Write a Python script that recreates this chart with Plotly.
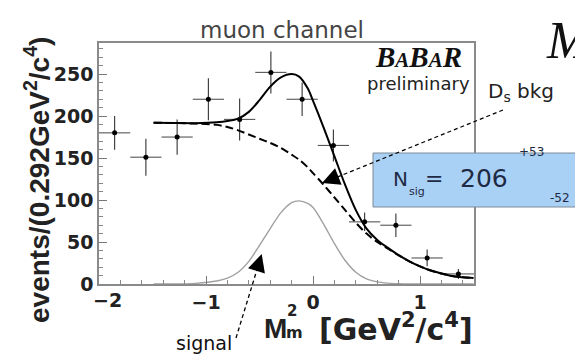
import plotly.graph_objects as go

# --- binned data (bin width 0.292 GeV^2/c^4) ---
bin_centers = [-1.854, -1.562, -1.270, -0.978, -0.686, -0.394, -0.102, 0.190, 0.482, 0.774, 1.066, 1.358]
events = [180, 151, 175, 220, 196, 252, 220, 165, 74, 70, 31, 12]
events_err = [20, 22, 21, 25, 25, 25, 20, 19, 11, 14, 10, 6]
bin_half_width = [0.146] * len(bin_centers)

# --- fit curves sampled along M_m^2 ---
fit_x = [-1.49, -1.3, -1.1, -0.9, -0.8, -0.7, -0.6, -0.5, -0.4, -0.3, -0.2, -0.13, -0.05,
         0.0, 0.1, 0.2, 0.3, 0.4, 0.5, 0.6, 0.7, 0.8, 0.9, 1.0, 1.1, 1.2, 1.3, 1.4, 1.5]
fit_total = [192, 191.7, 191.5, 192.5, 194, 197, 205, 219, 235, 246, 250, 247, 233,
             218, 186, 152, 118, 88, 66, 52.5, 43, 34.3, 27, 21, 16, 12.5, 9.5, 8, 7]
fit_bkg = [192, 191.7, 191, 189.5, 187, 183, 178, 173, 168, 162, 154, 148, 139,
           132, 118, 103, 88, 73, 60, 50, 42, 34, 27, 21, 16, 12.5, 9.5, 8, 7]
fit_signal = [0, 0, 0.8, 3.5, 7, 14, 27, 46, 66, 85, 97, 99, 96,
              91, 71, 48, 28, 14, 6, 2.5, 1, 0.3, 0, 0, 0, 0, 0, 0, 0]

x_ticks = [-2, -1, 0, 1]
x_tick_text = ["\u22122", "\u22121", "0", "1"]
y_ticks = [0, 50, 100, 150, 200, 250]

W, H = 575, 356
L, R, T, B = 99, 474, 43, 284


def px(x):
    return (x - L) / (R - L)


def py(y):
    return (B - y) / (B - T)


fig = go.Figure()

fig.add_trace(go.Scatter(
    x=bin_centers, y=events, mode="markers",
    marker=dict(color="black", size=5),
    error_y=dict(type="data", array=events_err, color="#333", thickness=1.1, width=0),
    error_x=dict(type="data", array=bin_half_width, color="#555", thickness=1.1, width=0),
    showlegend=False, hoverinfo="skip"))

fig.add_trace(go.Scatter(
    x=fit_x, y=fit_signal, mode="lines",
    line=dict(color="#a0a0a0", width=1.4, shape="spline", smoothing=0.9),
    showlegend=False, hoverinfo="skip"))

fig.add_trace(go.Scatter(
    x=fit_x, y=fit_bkg, mode="lines",
    line=dict(color="black", width=2, dash="8px,4px", shape="spline", smoothing=0.9),
    showlegend=False, hoverinfo="skip"))

fig.add_trace(go.Scatter(
    x=fit_x, y=fit_total, mode="lines",
    line=dict(color="black", width=2, shape="spline", smoothing=0.9),
    showlegend=False, hoverinfo="skip"))

tick_font = dict(family="DejaVu Sans", size=19, color="#222", weight="bold")
axis_common = dict(
    showgrid=False, zeroline=False, showline=True, mirror=True,
    linecolor="#8a8a8a", linewidth=1.5,
    ticks="inside", ticklen=8, tickcolor="#777", tickwidth=1,
    tickfont=tick_font,
)

# the leftmost x label is placed separately, off-centre as in ROOT output
fig.update_xaxes(range=[-2, 1.504], tickvals=x_ticks,
                 ticktext=[""] + x_tick_text[1:],
                 minor=dict(ticks="inside", ticklen=4, dtick=0.2, tick0=-2, tickcolor="#888"),
                 **axis_common)
fig.update_yaxes(range=[0, 287], tickvals=y_ticks,
                 minor=dict(ticks="inside", ticklen=4, dtick=10, tick0=0, tickcolor="#888"),
                 **axis_common)

ann = []


def text(x, y, s, size, family="DejaVu Sans", color="#111", xanchor="center",
         yanchor="middle", bold=False, italic=False, angle=0):
    f = dict(family=family, size=size, color=color)
    if bold:
        f["weight"] = "bold"
    if italic:
        f["style"] = "italic"
    ann.append(dict(x=px(x), y=py(y), xref="paper", yref="paper", text=s,
                    showarrow=False, xanchor=xanchor, yanchor=yanchor,
                    font=f, textangle=angle, borderpad=0))


text(107, 300, x_tick_text[0], 19, color="#222", bold=True)

# title
text(282, 30, "muon channel", 23, color="#444")

# axis titles
text(37, 180, "events/(0.292GeV<sup>2</sup>/c<sup>4</sup>)", 28,
     family="Liberation Sans", color="#222", bold=True, angle=-90)
text(288, 328, "M", 28, family="Liberation Sans", color="#222", bold=True, xanchor="right")
text(286, 311, "2", 15, color="#222", bold=True, xanchor="left")
text(285, 332, "m", 16, color="#222", bold=True, xanchor="left")
text(474, 327, "[GeV<sup>2</sup>/c<sup>4</sup>]", 30, color="#222", bold=True, xanchor="right")

# experiment label
text(418, 57, "B<span style='font-size:21px'>A</span>B<span style='font-size:21px'>A</span>R",
     29, family="Liberation Serif", color="#111", bold=True, italic=True)
text(418, 84, "preliminary", 18, color="#222")

# component labels
text(487, 92, "D<sub>s</sub> bkg", 20, color="#222", xanchor="left")
text(204, 343, "signal", 19, color="#111")

# partially visible symbol from the neighbouring text block
text(545, 40, "M", 52, family="Liberation Serif", color="#111", italic=True, xanchor="left")

shapes = []

# yield box
shapes.append(dict(type="rect", xref="paper", yref="paper",
                   x0=px(373), x1=px(580), y0=py(207), y1=py(153),
                   fillcolor="#a9d0f5", line=dict(color="#7d8b99", width=1), layer="above"))

text(400, 179, "N", 20, color="#1e2a44")
text(408, 191, "sig", 11, color="#1e2a44", xanchor="left")
text(434, 178, "=", 22, color="#1e2a44")
text(484, 178, "206", 25, color="#1e2a44")
text(531, 152, "+53", 12, color="#1e2a44")
text(560, 198, "-52", 12, color="#1e2a44")

# pointer lines (dashed) with filled arrow heads
shapes.append(dict(type="line", xref="paper", yref="paper",
                   x0=px(503), y0=py(110), x1=px(330), y1=py(180),
                   line=dict(color="black", width=1.3, dash="4px,3px"), layer="above"))
shapes.append(dict(type="line", xref="paper", yref="paper",
                   x0=px(236), y0=py(338), x1=px(259), y1=py(263),
                   line=dict(color="black", width=1.3, dash="4px,3px"), layer="above"))

for (tx, ty, dx, dy) in [(322, 183, 0.928, -0.371), (261.7, 254, -0.296, 0.955)]:
    ann.append(dict(x=px(tx), y=py(ty), xref="paper", yref="paper", text="",
                    showarrow=True, arrowhead=2, arrowsize=1.6, arrowwidth=2.2,
                    arrowcolor="black", ax=dx * 14, ay=dy * 14, axref="pixel", ayref="pixel"))

fig.update_layout(
    width=W, height=H,
    margin=dict(l=L, r=W - R, t=T, b=H - B, pad=0),
    paper_bgcolor="white", plot_bgcolor="white",
    annotations=ann, shapes=shapes, showlegend=False,
)

fig.write_html("out.html")
